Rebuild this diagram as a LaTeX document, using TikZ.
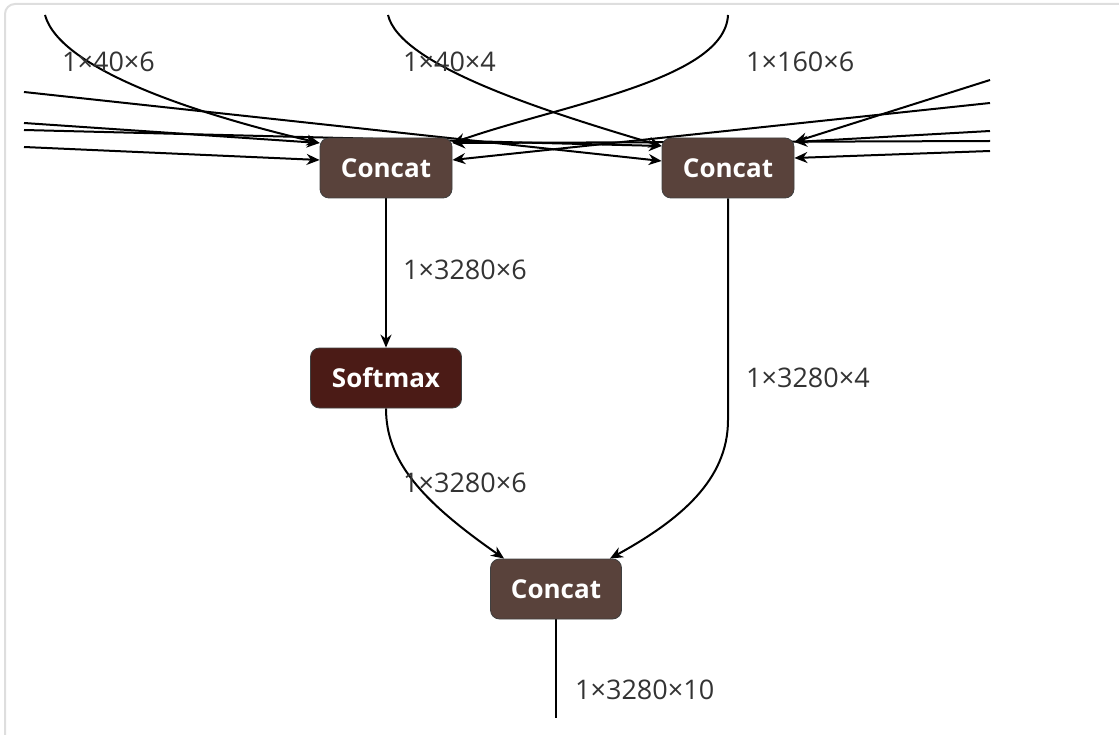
\documentclass[tikz,border=0pt]{standalone}
\usepackage{fontspec}
\setmainfont{Open Sans}
\usetikzlibrary{arrows.meta,backgrounds}
\definecolor{tensorbrown}{RGB}{89,66,59}
\definecolor{activred}{RGB}{75,27,22}
\definecolor{lblgray}{RGB}{51,51,51}
\definecolor{framegray}{RGB}{222,222,222}

\begin{document}
\begin{tikzpicture}[x=1pt, y=-1pt,
  op/.style = {shape=rectangle, rounded corners=9pt, draw=black!75, line width=0.8pt,
    text=white, font=\fontsize{26}{30}\selectfont\bfseries,
    minimum width=132pt, minimum height=60pt, inner sep=0pt},
  tensorlbl/.style = {anchor=west, inner sep=0pt, text=lblgray,
    font=\fontsize{27}{30}\selectfont},
  wire/.style = {line width=2pt, -{Stealth[length=13pt,width=11pt]}}]
  \useasboundingbox (0,0) rectangle (1119,735);
  \node[op, fill=tensorbrown] (concatA) at (386,168) {Concat};
  \node[op, fill=tensorbrown] (concatB) at (728,168) {Concat};
  \node[op, fill=activred, minimum width=151pt] (softmax) at (386,378) {Softmax};
  \node[op, fill=tensorbrown, minimum width=131pt] (concatC) at (556,589) {Concat};

  \coordinate (lin1) at (24,92);
  \coordinate (lin2) at (24,123);
  \coordinate (lin3) at (24,130);
  \coordinate (lin4) at (24,147);
  \coordinate (rin1) at (990,80);
  \coordinate (rin2) at (990,103);
  \coordinate (rin3) at (990,131);
  \coordinate (rin4) at (990,141);
  \coordinate (rin5) at (990,151);
  \coordinate (top1) at (45,15);
  \coordinate (top2) at (388,15);
  \coordinate (top3) at (728,15);
  \coordinate (outC) at (556,718);

  \node[tensorlbl] (l40x6) at (62,62) {1×40×6};
  \node[tensorlbl] (l40x4) at (403,62) {1×40×4};
  \node[tensorlbl] (l160x6) at (746,62) {1×160×6};
  \node[tensorlbl] (lscore) at (403,270) {1×3280×6};
  \node[tensorlbl] (lsoft) at (403,483) {1×3280×6};
  \node[tensorlbl] (lbox) at (746,378) {1×3280×4};
  \node[tensorlbl] (lout) at (575,690) {1×3280×10};

  \begin{pgfonlayer}{background}
  \draw[framegray, line width=2pt, rounded corners=10pt] (5,760) |- (1140,4);
  \draw[wire] (lin1) -- ([yshift=7pt]concatB.west);
  \draw[wire] (lin2) -- ([yshift=25pt]concatA.west);
  \draw[wire] (lin3) -- ([yshift=22pt]concatB.west);
  \draw[wire] (lin4) -- ([yshift=8pt]concatA.west);
  \draw[wire] (rin1) -- ([yshift=26pt]concatB.east);
  \draw[wire] (rin2) -- ([yshift=8pt]concatA.east);
  \draw[wire] (rin3) -- ([yshift=26pt]concatB.east);
  \draw[wire] (rin4) -- ([yshift=25pt]concatA.east);
  \draw[wire] (rin5) -- ([yshift=10pt]concatB.east);
  \draw[wire] (top1) .. controls (60,70) and (200,115) .. ([yshift=25pt]concatA.west);
  \draw[wire] (top2) .. controls (400,65) and (540,110) .. ([yshift=22pt]concatB.west);
  \draw[wire] (top3) .. controls (725,80) and (560,105) .. ([yshift=25pt]concatA.east);
  \draw[wire] (concatA) -- (softmax);
  \draw[wire] (softmax.south) .. controls (386,460) and (420,500) .. ([xshift=14pt]concatC.north west);
  \draw[wire] (concatB.south) -- (728,420) .. controls (728,480) and (680,520) .. ([xshift=-12pt]concatC.north east);
  \draw[line width=2pt] (concatC) -- (outC);
  \end{pgfonlayer}
\end{tikzpicture}
\end{document}
